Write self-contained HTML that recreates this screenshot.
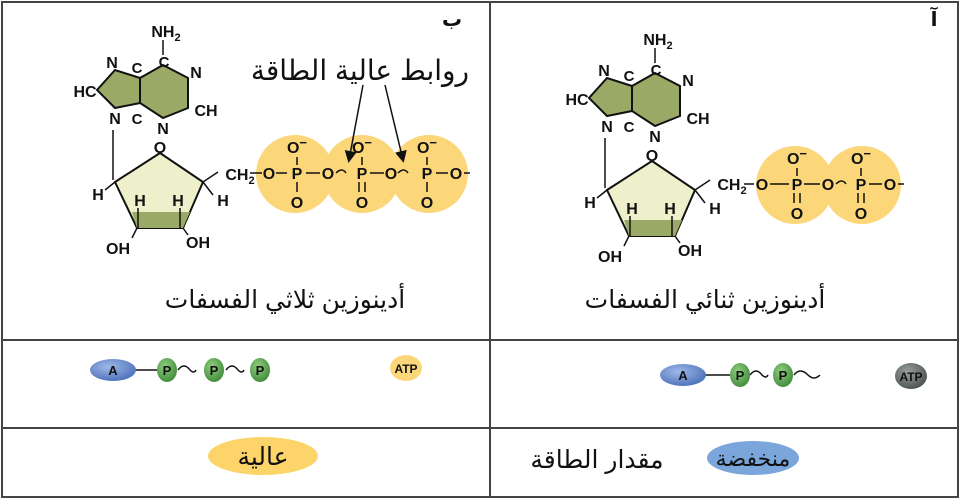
<!DOCTYPE html>
<html><head><meta charset="utf-8"><style>
html,body{margin:0;padding:0;background:#fff;width:960px;height:504px;overflow:hidden}
svg text{font-family:"Liberation Sans","DejaVu Sans",sans-serif}
</style></head><body>
<svg width="960" height="504" viewBox="0 0 960 504" xmlns="http://www.w3.org/2000/svg">
<defs>
<radialGradient id="gb" cx="40%" cy="35%" r="70%"><stop offset="0" stop-color="#9fb8e8"/><stop offset="1" stop-color="#4a6fb8"/></radialGradient>
<radialGradient id="gg" cx="40%" cy="35%" r="70%"><stop offset="0" stop-color="#8fcf7f"/><stop offset="1" stop-color="#3e8a3a"/></radialGradient>
<radialGradient id="gk" cx="40%" cy="35%" r="70%"><stop offset="0" stop-color="#9aa09c"/><stop offset="1" stop-color="#4a504c"/></radialGradient>
<marker id="ah" markerWidth="8" markerHeight="8" refX="6" refY="4" orient="auto"><path d="M0,0 L8,4 L0,8 z" fill="#111"/></marker>
</defs>
<g fill="none" stroke="#444" stroke-width="2">
<rect x="2" y="2" width="956" height="495"/>
<line x1="490" y1="2" x2="490" y2="497"/>
<line x1="2" y1="340" x2="958" y2="340"/>
<line x1="2" y1="428" x2="958" y2="428"/>
</g>

<!-- Left molecule (ATP) -->
<g>
<circle cx="295" cy="174" r="39" fill="#fcd77a"/>
<circle cx="362" cy="174" r="39" fill="#fcd77a"/>
<circle cx="429" cy="174" r="39" fill="#fcd77a"/>
<polygon points="163,65 188,78 188,108 163,118 140,103 140,78" fill="#9aa965" stroke="#111" stroke-width="2"/>
<polygon points="140,78 115,70 97,90 115,108 140,103" fill="#9aa965" stroke="#111" stroke-width="2"/>
<line x1="163" y1="40" x2="163" y2="55" stroke="#111" stroke-width="1.5"/>
<line x1="113" y1="130" x2="113" y2="180" stroke="#111" stroke-width="1.5"/>
<polygon points="160,153 115,182 137,228 183,228 203,182" fill="#eef0cc" stroke="#111" stroke-width="2"/>
<polygon points="137,228 183,228 190,212 132,212" fill="#9aa965"/>
<g stroke="#111" stroke-width="1.5">
<line x1="115" y1="182" x2="105" y2="190"/><line x1="203" y1="182" x2="213" y2="195"/>
<line x1="138" y1="208" x2="138" y2="228"/><line x1="180" y1="208" x2="180" y2="228"/>
<line x1="137" y1="228" x2="132" y2="238"/><line x1="183" y1="228" x2="188" y2="235"/>
<line x1="203" y1="182" x2="218" y2="172"/><line x1="250" y1="173" x2="262" y2="173"/>
<line x1="276" y1="173" x2="287" y2="173"/><line x1="306" y1="173" x2="320" y2="173"/>
<line x1="297" y1="157" x2="297" y2="165"/><line x1="297" y1="182" x2="297" y2="192"/>
<path d="M336,173 q6,-6 10,0" fill="none"/>
<line x1="370" y1="173" x2="384" y2="173"/><line x1="362" y1="157" x2="362" y2="165"/>
<line x1="359" y1="182" x2="359" y2="192"/><line x1="365" y1="182" x2="365" y2="192"/>
<path d="M398,173 q6,-6 10,0" fill="none"/>
<line x1="436" y1="173" x2="448" y2="173"/><line x1="427" y1="157" x2="427" y2="165"/>
<line x1="427" y1="182" x2="427" y2="192"/><line x1="464" y1="173" x2="470" y2="173"/>
</g>
<g font-size="16" font-weight="bold" fill="#111" text-anchor="middle">
<text x="166" y="37">NH<tspan font-size="11" dy="4">2</tspan></text>
<text x="164" y="67" font-size="15">C</text>
<text x="112" y="68">N</text><text x="137" y="73" font-size="15">C</text>
<text x="196" y="78">N</text><text x="85" y="97">HC</text>
<text x="115" y="124">N</text><text x="137" y="124" font-size="15">C</text>
<text x="163" y="134">N</text><text x="206" y="116">CH</text>
<text x="160" y="153">O</text>
<text x="98" y="200">H</text><text x="223" y="206">H</text>
<text x="140" y="206">H</text><text x="178" y="206">H</text>
<text x="118" y="254">OH</text><text x="198" y="248">OH</text>
<text x="240" y="180">CH<tspan font-size="11" dy="4">2</tspan></text>
<text x="269" y="179">O</text><text x="297" y="179">P</text><text x="328" y="179">O</text>
<text x="297" y="153">O<tspan font-size="13" dy="-6">−</tspan></text><text x="297" y="208">O</text>
<text x="362" y="179">P</text><text x="391" y="179">O</text>
<text x="362" y="153">O<tspan font-size="13" dy="-6">−</tspan></text><text x="362" y="208">O</text>
<text x="427" y="179">P</text><text x="456" y="179">O</text>
<text x="427" y="153">O<tspan font-size="13" dy="-6">−</tspan></text><text x="427" y="208">O</text>
</g>
<line x1="363" y1="85" x2="349" y2="160" stroke="#111" stroke-width="1.5" marker-end="url(#ah)"/>
<line x1="385" y1="85" x2="403" y2="160" stroke="#111" stroke-width="1.5" marker-end="url(#ah)"/>
<text x="360" y="80" font-size="28" text-anchor="middle" fill="#111" direction="rtl">روابط عالية الطاقة</text>
<text x="285" y="308" font-size="25" text-anchor="middle" fill="#111" direction="rtl">أدينوزين ثلاثي الفسفات</text>
<text x="452" y="26" font-size="20" font-weight="bold" fill="#111" text-anchor="middle">ب</text>
</g>

<!-- Right molecule (ADP) -->
<g transform="translate(492,8)">
<circle cx="303" cy="177" r="39" fill="#fcd77a"/>
<circle cx="370" cy="177" r="39" fill="#fcd77a"/>
<polygon points="163,65 188,78 188,108 163,118 140,103 140,78" fill="#9aa965" stroke="#111" stroke-width="2"/>
<polygon points="140,78 115,70 97,90 115,108 140,103" fill="#9aa965" stroke="#111" stroke-width="2"/>
<line x1="163" y1="40" x2="163" y2="55" stroke="#111" stroke-width="1.5"/>
<line x1="113" y1="130" x2="113" y2="180" stroke="#111" stroke-width="1.5"/>
<polygon points="160,153 115,182 137,228 183,228 203,182" fill="#eef0cc" stroke="#111" stroke-width="2"/>
<polygon points="137,228 183,228 190,212 132,212" fill="#9aa965"/>
<g stroke="#111" stroke-width="1.5">
<line x1="115" y1="182" x2="105" y2="190"/><line x1="203" y1="182" x2="213" y2="195"/>
<line x1="138" y1="208" x2="138" y2="228"/><line x1="180" y1="208" x2="180" y2="228"/>
<line x1="137" y1="228" x2="132" y2="238"/><line x1="183" y1="228" x2="188" y2="235"/>
<line x1="203" y1="182" x2="218" y2="172"/><line x1="252" y1="176" x2="262" y2="176"/>
<line x1="278" y1="176" x2="297" y2="176"/><line x1="312" y1="176" x2="328" y2="176"/>
<line x1="305" y1="160" x2="305" y2="168"/><line x1="302" y1="185" x2="302" y2="195"/><line x1="308" y1="185" x2="308" y2="195"/>
<path d="M344,176 q6,-6 10,0" fill="none"/>
<line x1="377" y1="176" x2="390" y2="176"/><line x1="369" y1="160" x2="369" y2="168"/>
<line x1="366" y1="185" x2="366" y2="195"/><line x1="372" y1="185" x2="372" y2="195"/>
<line x1="406" y1="176" x2="412" y2="176"/>
</g>
<g font-size="16" font-weight="bold" fill="#111" text-anchor="middle">
<text x="166" y="37">NH<tspan font-size="11" dy="4">2</tspan></text>
<text x="164" y="67" font-size="15">C</text>
<text x="112" y="68">N</text><text x="137" y="73" font-size="15">C</text>
<text x="196" y="78">N</text><text x="85" y="97">HC</text>
<text x="115" y="124">N</text><text x="137" y="124" font-size="15">C</text>
<text x="163" y="134">N</text><text x="206" y="116">CH</text>
<text x="160" y="153">O</text>
<text x="98" y="200">H</text><text x="223" y="206">H</text>
<text x="140" y="206">H</text><text x="178" y="206">H</text>
<text x="118" y="254">OH</text><text x="198" y="248">OH</text>
<text x="240" y="182">CH<tspan font-size="11" dy="4">2</tspan></text>
<text x="270" y="182">O</text><text x="305" y="182">P</text><text x="336" y="182">O</text>
<text x="305" y="156">O<tspan font-size="13" dy="-6">−</tspan></text><text x="305" y="211">O</text>
<text x="369" y="182">P</text><text x="398" y="182">O</text>
<text x="369" y="156">O<tspan font-size="13" dy="-6">−</tspan></text><text x="369" y="211">O</text>
</g>
</g>
<text x="705" y="308" font-size="25" text-anchor="middle" fill="#111" direction="rtl">أدينوزين ثنائي الفسفات</text>
<text x="934" y="26" font-size="20" font-weight="bold" fill="#111" text-anchor="middle">آ</text>

<!-- Row 2 -->
<g stroke="#111" stroke-width="1.5" fill="none">
<line x1="135" y1="370" x2="157" y2="370"/>
<path d="M178,370 q6,-8 12,0 q4,4 6,0"/>
<path d="M226,370 q6,-8 12,0 q4,4 6,0"/>
<line x1="705" y1="375" x2="730" y2="375"/>
<path d="M750,375 q6,-8 12,0 q4,4 6,0"/>
<path d="M794,375 q6,-8 14,0 q6,6 12,0"/>
</g>
<g font-size="13" font-weight="bold" fill="#111" text-anchor="middle">
<ellipse cx="113" cy="370" rx="23" ry="11" fill="url(#gb)"/><text x="113" y="375">A</text>
<ellipse cx="167" cy="370" rx="10" ry="12" fill="url(#gg)"/><text x="167" y="375">P</text>
<ellipse cx="214" cy="370" rx="10" ry="12" fill="url(#gg)"/><text x="214" y="375">P</text>
<ellipse cx="260" cy="370" rx="10" ry="12" fill="url(#gg)"/><text x="260" y="375">P</text>
<ellipse cx="406" cy="368" rx="16" ry="13" fill="#fcd77a"/><text x="406" y="373" font-size="12">ATP</text>
<ellipse cx="683" cy="375" rx="23" ry="11" fill="url(#gb)"/><text x="683" y="380">A</text>
<ellipse cx="740" cy="375" rx="10" ry="12" fill="url(#gg)"/><text x="740" y="380">P</text>
<ellipse cx="783" cy="375" rx="10" ry="12" fill="url(#gg)"/><text x="783" y="380">P</text>
<ellipse cx="911" cy="376" rx="16" ry="13" fill="url(#gk)"/><text x="911" y="381" font-size="12">ATP</text>
</g>

<!-- Row 3 -->
<ellipse cx="263" cy="456" rx="55" ry="19" fill="#fcd46a"/>
<text x="263" y="465" font-size="25" text-anchor="middle" fill="#111" direction="rtl">عالية</text>
<ellipse cx="753" cy="458" rx="46" ry="17" fill="#7aa6dc"/>
<text x="753" y="466" font-size="22" text-anchor="middle" fill="#111" direction="rtl">منخفضة</text>
<text x="597" y="468" font-size="25" text-anchor="middle" fill="#111" direction="rtl">مقدار الطاقة</text>
</svg>
</body></html>
